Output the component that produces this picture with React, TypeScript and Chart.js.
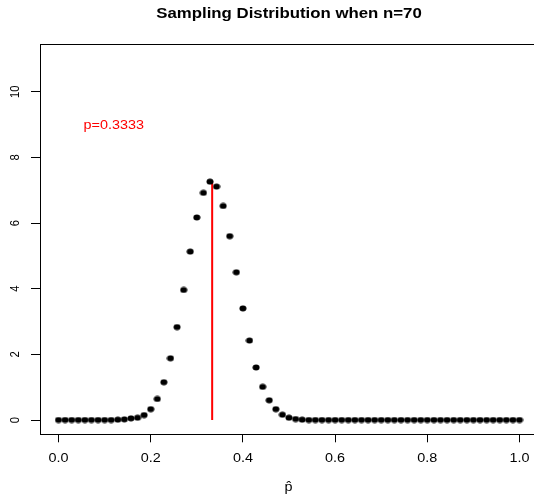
import React, { useEffect, useRef } from "react";
import { Chart, registerables } from "chart.js";
Chart.register(...registerables);

const n = 70;
const pTrue = 1 / 3;
const phat: number[] = Array.from({ length: n + 1 }, (_, k) => k / n);
const density: number[] = [
  0, 0, 0, 0, 0, 0, 0, 0, 0, 0.01,
  0.02, 0.05, 0.07, 0.15, 0.33, 0.64, 1.15, 1.88, 2.83, 3.96,
  5.13, 6.17, 6.92, 7.26, 7.11, 6.52, 5.6, 4.5, 3.4, 2.42,
  1.6, 1.01, 0.6, 0.33, 0.16, 0.07, 0.03, 0.01, 0, 0,
  0, 0, 0, 0, 0, 0, 0, 0, 0, 0,
  0, 0, 0, 0, 0, 0, 0, 0, 0, 0,
  0, 0, 0, 0, 0, 0, 0, 0, 0, 0,
  0,
];
const redLineTop = 7.28;
const xTicks = [0, 0.2, 0.4, 0.6, 0.8, 1.0];
const xTickLabels = ["0.0", "0.2", "0.4", "0.6", "0.8", "1.0"];
const yTicks = [0, 2, 4, 6, 8, 10];
const yTickLabels = ["0", "2", "4", "6", "8", "10"];
const titleText = "Sampling Distribution when n=70";
const pLabel = "p=0.3333";
const pLabelPos = { x: 0.12, y: 9 };
const xAxisTitle = "p\u0302";

const FONT = '"Liberation Sans", Arial, Helvetica, sans-serif';
const SX = 1.2;

function drawText(
  ctx: CanvasRenderingContext2D,
  text: string,
  x: number,
  y: number,
  font: string,
  color: string,
  rot = 0
) {
  ctx.save();
  ctx.translate(x, y);
  ctx.scale(SX, 1);
  if (rot) ctx.rotate(rot);
  ctx.font = font;
  ctx.fillStyle = color;
  ctx.textAlign = "center";
  ctx.textBaseline = "alphabetic";
  ctx.fillText(text, 0, 0);
  ctx.restore();
}

export default function App() {
  const ref = useRef<HTMLCanvasElement | null>(null);
  useEffect(() => {
    if (!ref.current) return;
    const dot = document.createElement("canvas");
    dot.width = 8;
    dot.height = 7;
    const dctx = dot.getContext("2d")!;
    dctx.fillStyle = "#000";
    dctx.beginPath();
    dctx.ellipse(4, 3.5, 3.5, 3.05, 0, 0, Math.PI * 2);
    dctx.fill();

    const textPlugin = {
      id: "rtext",
      afterDraw(chart: any) {
        const ctx: CanvasRenderingContext2D = chart.ctx;
        const { left, right, top } = chart.chartArea;
        const xs = chart.scales.x;
        const ys = chart.scales.y;
        ctx.save();
        ctx.strokeStyle = "#000";
        ctx.lineWidth = 1;
        ctx.beginPath();
        ctx.moveTo(left - 0.5, top);
        ctx.lineTo(right, top);
        ctx.stroke();
        ctx.restore();

        drawText(ctx, titleText, 289, 18.3, `bold 14px ${FONT}`, "#000");
        xTicks.forEach((v, i) => {
          drawText(ctx, xTickLabels[i], xs.getPixelForValue(v), 462.3, `12px ${FONT}`, "#000");
        });
        yTicks.forEach((v, i) => {
          drawText(ctx, yTickLabels[i], 19.3, ys.getPixelForValue(v), `11.3px ${FONT}`, "#000", -Math.PI / 2);
        });
        drawText(
          ctx,
          pLabel,
          xs.getPixelForValue(pLabelPos.x),
          ys.getPixelForValue(pLabelPos.y) + 4.3,
          `12px ${FONT}`,
          "#ff0000"
        );
        drawText(ctx, xAxisTitle, 288.5, 491, `12px ${FONT}`, "#000");
      },
    };

    const xMin = -(58.5 - 40.5) / 461;
    const xMax = xMin + (534 - 40.5) / 461;
    const yPx = 32.83;
    const yMin = -(434.3 - 420) / yPx;
    const yMax = (420 - 44.5) / yPx;

    const chart = new Chart(ref.current, {
      type: "scatter",
      data: {
        datasets: [
          {
            label: "density",
            data: phat.map((x, i) => ({ x, y: density[i] })),
            pointStyle: dot as any,
            pointRadius: 3.5,
            backgroundColor: "#000",
            borderColor: "#000",
            showLine: false,
            order: 1,
          } as any,
          {
            type: "line",
            label: "p",
            data: [
              { x: pTrue, y: 0 },
              { x: pTrue, y: redLineTop },
            ],
            borderColor: "#ff0000",
            borderWidth: 2,
            pointRadius: 0,
            showLine: true,
            order: 2,
          } as any,
        ],
      },
      options: {
        animation: false,
        responsive: false,
        events: [],
        layout: { autoPadding: false, padding: { left: 0, right: 0, top: 44.5, bottom: 0 } },
        plugins: {
          legend: { display: false },
          tooltip: { enabled: false },
          title: { display: false },
        },
        scales: {
          x: {
            type: "linear",
            min: xMin,
            max: xMax,
            afterBuildTicks: (s: any) => {
              s.ticks = xTicks.map((v) => ({ value: v }));
            },
            afterFit: (s: any) => {
              s.height = 494 - 434.3;
            },
            grid: {
              display: true,
              drawOnChartArea: false,
              drawTicks: true,
              tickLength: 8,
              color: "#000",
              lineWidth: 1,
            },
            border: { display: true, color: "#000", width: 1 },
            ticks: { display: false },
          },
          y: {
            type: "linear",
            min: yMin,
            max: yMax,
            afterBuildTicks: (s: any) => {
              s.ticks = yTicks.map((v) => ({ value: v }));
            },
            afterFit: (s: any) => {
              s.width = 40.5;
            },
            grid: {
              display: true,
              drawOnChartArea: false,
              drawTicks: true,
              tickLength: 9.5,
              color: "#000",
              lineWidth: 1,
            },
            border: { display: true, color: "#000", width: 1 },
            ticks: { display: false },
          },
        },
      } as any,
      plugins: [textPlugin],
    });
    return () => chart.destroy();
  }, []);

  return (
    <div style={{ position: "fixed", left: 0, top: 0, width: 534, height: 494, background: "#fff" }}>
      <canvas ref={ref} width={534} height={494} style={{ width: 534, height: 494, display: "block" }} />
    </div>
  );
}
